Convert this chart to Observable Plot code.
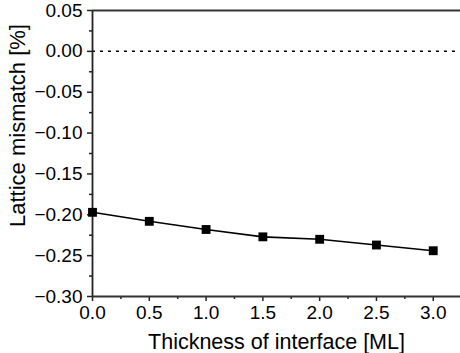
<!DOCTYPE html>
<html>
<head>
<meta charset="utf-8">
<script src="https://cdn.jsdelivr.net/npm/d3@7"></script>
<script src="https://cdn.jsdelivr.net/npm/@observablehq/plot@0.6"></script>
<style>
  html, body { margin: 0; padding: 0; background: #fff; }
  #chart svg { display: block; }
</style>
</head>
<body>
<div id="chart"></div>
<script>
const thickness = [0.0, 0.5, 1.0, 1.5, 2.0, 2.5, 3.0];
const mismatch = [-0.197, -0.208, -0.218, -0.227, -0.230, -0.237, -0.244];
const xTicks = [0.0, 0.5, 1.0, 1.5, 2.0, 2.5, 3.0];
const xMinor = [0.25, 0.75, 1.25, 1.75, 2.25, 2.75];
const yTicks = [-0.30, -0.25, -0.20, -0.15, -0.10, -0.05, 0.00, 0.05];
const yMinor = [-0.275, -0.225, -0.175, -0.125, -0.075, -0.025, 0.025];
const xTitle = "Thickness of interface [ML]";
const yTitle = "Lattice mismatch [%]";

const data = thickness.map((t, i) => ({t, m: mismatch[i]}));
const font = "'Liberation Sans', Arial, sans-serif";

const chart = Plot.plot({
  width: 460,
  height: 353,
  marginLeft: 92,
  marginRight: 0,
  marginTop: 10,
  marginBottom: 57,
  style: {fontFamily: font, color: "#000", background: "#fff"},
  x: {domain: [0, 3.24]},
  y: {domain: [-0.30, 0.05]},
  marks: [
    Plot.ruleY([0], {stroke: "#000", strokeWidth: 1.5, strokeDasharray: "3,5"}),
    Plot.axisX({ticks: xTicks, tickFormat: d3.format(".1f"), tickSize: 5, tickPadding: 4, fontSize: 19, label: null, stroke: "#222", strokeWidth: 1.5}),
    Plot.axisX({ticks: xMinor, tickFormat: () => "", tickSize: 3, label: null, stroke: "#222", strokeWidth: 1.5}),
    Plot.axisY({ticks: yTicks, tickFormat: d3.format(".2f"), tickSize: 5, tickPadding: 5, fontSize: 19, label: null, stroke: "#222", strokeWidth: 1.5}),
    Plot.axisY({ticks: yMinor, tickFormat: () => "", tickSize: 3, label: null, stroke: "#222", strokeWidth: 1.5}),
    Plot.ruleX([0], {stroke: "#222", strokeWidth: 1.8}),
    Plot.ruleY([-0.30, 0.05], {stroke: "#333", strokeWidth: 1.8}),
    Plot.line(data, {x: "t", y: "m", stroke: "#000", strokeWidth: 1.6}),
    Plot.dot(data, {x: "t", y: "m", symbol: "square", r: 5, fill: "#000", stroke: "none"}),
    Plot.text([xTitle], {frameAnchor: "bottom", textAnchor: "middle", dy: 52, lineAnchor: "bottom", fontSize: 21.5, fill: "#000"}),
    Plot.text([yTitle], {frameAnchor: "left", textAnchor: "middle", rotate: -90, dx: -75, dy: -28, lineAnchor: "middle", fontSize: 22, fill: "#000"})
  ]
});
document.getElementById("chart").appendChild(chart);
</script>
</body>
</html>
